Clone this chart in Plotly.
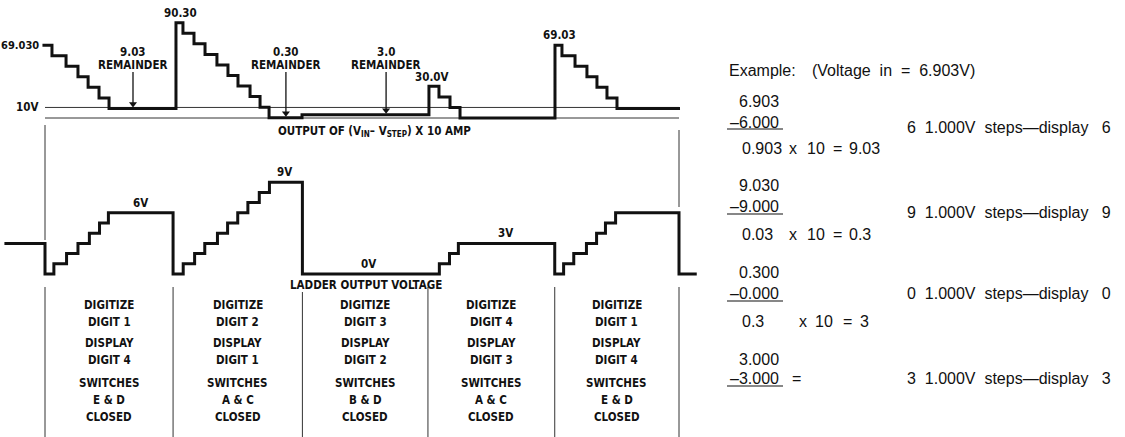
import plotly.graph_objects as go

W, H = 1125, 437

# ---------------- data (time in conversion periods) ----------------
period_bounds = [0, 1.01, 2.03, 3.02, 4.02, 5.0]

# (Vin - Vstep) x 10 amplifier output, volts
amp_t = [-0.02, 0.055, 0.166, 0.26, 0.34, 0.426, 0.505,
         1.033, 1.088, 1.175, 1.262, 1.356, 1.443, 1.522, 1.617, 1.696, 1.767,
         2.027,
         3.028, 3.107, 3.194, 3.273,
         4.022, 4.077, 4.180, 4.274, 4.353, 4.432, 4.511, 5.008]
amp_v = [69.03, 59.03, 49.03, 39.03, 29.03, 19.03, 9.03,
         90.30, 80.30, 70.30, 60.30, 50.30, 40.30, 30.30, 20.30, 10.30, 0.30,
         3.0,
         30.0, 20.0, 10.0, 0.0,
         69.03, 59.03, 49.03, 39.03, 29.03, 19.03, 9.03, 9.03]

# ladder output voltage, volts
ladder_t = [-0.32, 0, 0.07, 0.17, 0.26, 0.35, 0.43, 0.50,
            1.01, 1.09, 1.18, 1.26, 1.36, 1.44, 1.52, 1.60, 1.69, 1.77,
            2.03,
            3.11, 3.19, 3.26,
            4.02, 4.09, 4.17, 4.27, 4.35, 4.42, 4.50,
            5.0, 5.14]
ladder_v = [3, 0, 1, 2, 3, 4, 5, 6,
            0, 1, 2, 3, 4, 5, 6, 7, 8, 9,
            0,
            1, 2, 3,
            0, 1, 2, 3, 4, 5, 6,
            0, 0]

ref_levels = [10, 0]

digitize = ["DIGIT 1", "DIGIT 2", "DIGIT 3", "DIGIT 4", "DIGIT 1"]
display = ["DIGIT 4", "DIGIT 1", "DIGIT 2", "DIGIT 3", "DIGIT 4"]
switches = ["E & D", "A & C", "B & D", "A & C", "E & D"]

rem_labels = ["9.03", "0.30", "3.0"]
rem_t = [0.694, 1.90, 2.69]
rem_v = [9.03, 0.30, 3.0]

# ---------------- helpers ----------------
def px(x):
    return x / W

def py(y):
    return 1 - y / H

T0, TP = 45.0, 126.8           # pixel of t=0, pixels per period
AMP0, AMPK = 118.0, 1.055      # pixel of 0 V, px per volt (amp)
LAD0, LADK = 274.0, 10.2       # pixel of 0 V, px per volt (ladder)
ARROW_TOP_PX = 72
HEAD_PX = 4.5

COND = "Liberation Sans Narrow, DejaVu Sans Condensed, Roboto Condensed, Arial Narrow, Liberation Sans, sans-serif"
REG = "Liberation Sans, Arial, Helvetica, sans-serif"
INK = "#111111"

fig = go.Figure()

# reference lines (10V and 0V)
for lv in ref_levels:
    fig.add_trace(go.Scatter(x=[period_bounds[0], period_bounds[-1]], y=[lv, lv],
                             mode="lines", line=dict(color="#333333", width=1),
                             xaxis="x", yaxis="y", hoverinfo="skip", showlegend=False))

fig.add_trace(go.Scatter(x=amp_t, y=amp_v, mode="lines", line_shape="hv",
                         line=dict(color=INK, width=3), xaxis="x", yaxis="y",
                         showlegend=False))
fig.add_trace(go.Scatter(x=ladder_t, y=ladder_v, mode="lines", line_shape="hv",
                         line=dict(color=INK, width=3), xaxis="x", yaxis="y2",
                         showlegend=False))

# remainder arrows (shaft + head)
top_v = (AMP0 - ARROW_TOP_PX) / AMPK
for t, v in zip(rem_t, rem_v):
    head_v = v + HEAD_PX / AMPK
    fig.add_trace(go.Scatter(x=[t, t], y=[top_v, head_v], mode="lines",
                             line=dict(color=INK, width=1.3), xaxis="x", yaxis="y",
                             hoverinfo="skip", showlegend=False))
    fig.add_trace(go.Scatter(x=[t], y=[head_v], mode="markers",
                             marker=dict(symbol="triangle-down", size=7, color=INK,
                                         line=dict(width=0)),
                             xaxis="x", yaxis="y", hoverinfo="skip", showlegend=False))

# period dividers
shapes = []
shapes.append(dict(type="line", xref="x", yref="paper", x0=period_bounds[0], x1=period_bounds[0],
                   y0=py(125), y1=py(240), line=dict(color="#333", width=1)))
shapes.append(dict(type="line", xref="x", yref="paper", x0=period_bounds[-1], x1=period_bounds[-1],
                   y0=py(130), y1=py(207), line=dict(color="#333", width=1)))
for i, b in enumerate(period_bounds):
    top = 292 if i == 2 else 287
    shapes.append(dict(type="line", xref="x", yref="paper", x0=b, x1=b,
                       y0=py(top), y1=0, line=dict(color="#333", width=1)))

ann = []
def txt(text, x, y, xref="paper", yref="paper", size=11.5, font=COND, xanchor="center",
        yanchor="middle", bold=True, **kw):
    t = f"<b>{text}</b>" if bold else text
    ann.append(dict(text=t, x=x, y=y, xref=xref, yref=yref, showarrow=False,
                    xanchor=xanchor, yanchor=yanchor,
                    font=dict(family=font, size=size, color=INK), **kw))

# amp waveform labels
txt("69.030", -0.035, 69.03, xref="x", yref="y", xanchor="right", size=11)
txt("10V", -0.04, 10, xref="x", yref="y", xanchor="right")
txt("90.30", 1.065, 90.30, xref="x", yref="y", yanchor="bottom", yshift=1)
txt("30.0V", 3.05, 30.0, xref="x", yref="y", yanchor="bottom", yshift=0)
txt("69.03", 4.06, 69.03, xref="x", yref="y", yanchor="bottom", yshift=1)
for lab, t in zip(rem_labels, rem_t):
    txt(lab, t, py(52), xref="x")
    txt("REMAINDER", t, py(65), xref="x")
txt("OUTPUT OF (V<sub>IN</sub>\u2013 V<sub>STEP</sub>) X 10 AMP", 2.6, py(131), xref="x")

# ladder labels
txt("6V", 0.75, 6, xref="x", yref="y2", yanchor="bottom", yshift=1)
txt("9V", 1.89, 9, xref="x", yref="y2", yanchor="bottom", yshift=1)
txt("0V", 2.555, 0, xref="x", yref="y2", yanchor="bottom", yshift=1)
txt("3V", 3.63, 3, xref="x", yref="y2", yanchor="bottom", yshift=1)
txt("LADDER OUTPUT VOLTAGE", 2.53, py(285), xref="x")

# table
rows_y = [305, 322, 343, 360, 383, 400, 417]
for i in range(5):
    cx = (period_bounds[i] + period_bounds[i + 1]) / 2
    lines = ["DIGITIZE", digitize[i], "DISPLAY", display[i], "SWITCHES", switches[i], "CLOSED"]
    for s, yy in zip(lines, rows_y):
        txt(s, cx, py(yy), xref="x")

# right-hand worked example
def rt(text, x, y, xanchor="left"):
    txt(text, px(x), py(y), size=16, font=REG, bold=False, xanchor=xanchor)

rt("Example:", 727, 70)
rt("(Voltage in = 6.903V)".replace(" ", "\u00a0\u00a0"), 810, 70)

steps_rows = [
    ("6.903", "\u20136.000", "6", 101, 122, 129, 127),
    ("9.030", "\u20139.000", "9", 186, 207, 214, 212),
    ("0.300", "\u20130.000", "0", 272, 293, 301, 293),
    ("3.000", "\u20133.000", "3", 359, 378, 386, 378),
]
for top, sub, d, y1, y2, yu, ys in steps_rows:
    rt(top, 781, y1, xanchor="right")
    rt(sub, 781, y2, xanchor="right")
    shapes.append(dict(type="line", xref="paper", yref="paper", x0=px(727), x1=px(783),
                       y0=py(yu), y1=py(yu), line=dict(color=INK, width=1.2)))
    rt(f"{d}\u00a0\u00a01.000V\u00a0\u00a0steps\u2014display\u00a0\u00a0\u00a0{d}", 905, ys)

results = [("0.903", "9.03", 148, [787, 805, 831, 847]),
           ("0.03", "0.3", 234, [787, 805, 831, 847]),
           ("0.3", "3", 321, [797, 813, 841, 858])]
for a, r, y, xs in results:
    rt(a, 740, y)
    rt("x", xs[0], y)
    rt("10", xs[1], y)
    rt("=", xs[2], y)
    rt(r, xs[3], y)
rt("=", 790, 378)

fig.update_layout(
    width=W, height=H, margin=dict(l=0, r=0, t=0, b=0),
    paper_bgcolor="white", plot_bgcolor="white",
    xaxis=dict(range=[-T0 / TP, (W - T0) / TP], visible=False, fixedrange=True),
    yaxis=dict(range=[(AMP0 - H) / AMPK, AMP0 / AMPK], visible=False, fixedrange=True),
    yaxis2=dict(range=[(LAD0 - H) / LADK, LAD0 / LADK], visible=False, overlaying="y",
                fixedrange=True),
    shapes=shapes, annotations=ann, showlegend=False,
)

fig.write_html("out.html", config={"displayModeBar": False},
               post_script="document.body.style.margin='0px';document.body.style.overflow='hidden';")
